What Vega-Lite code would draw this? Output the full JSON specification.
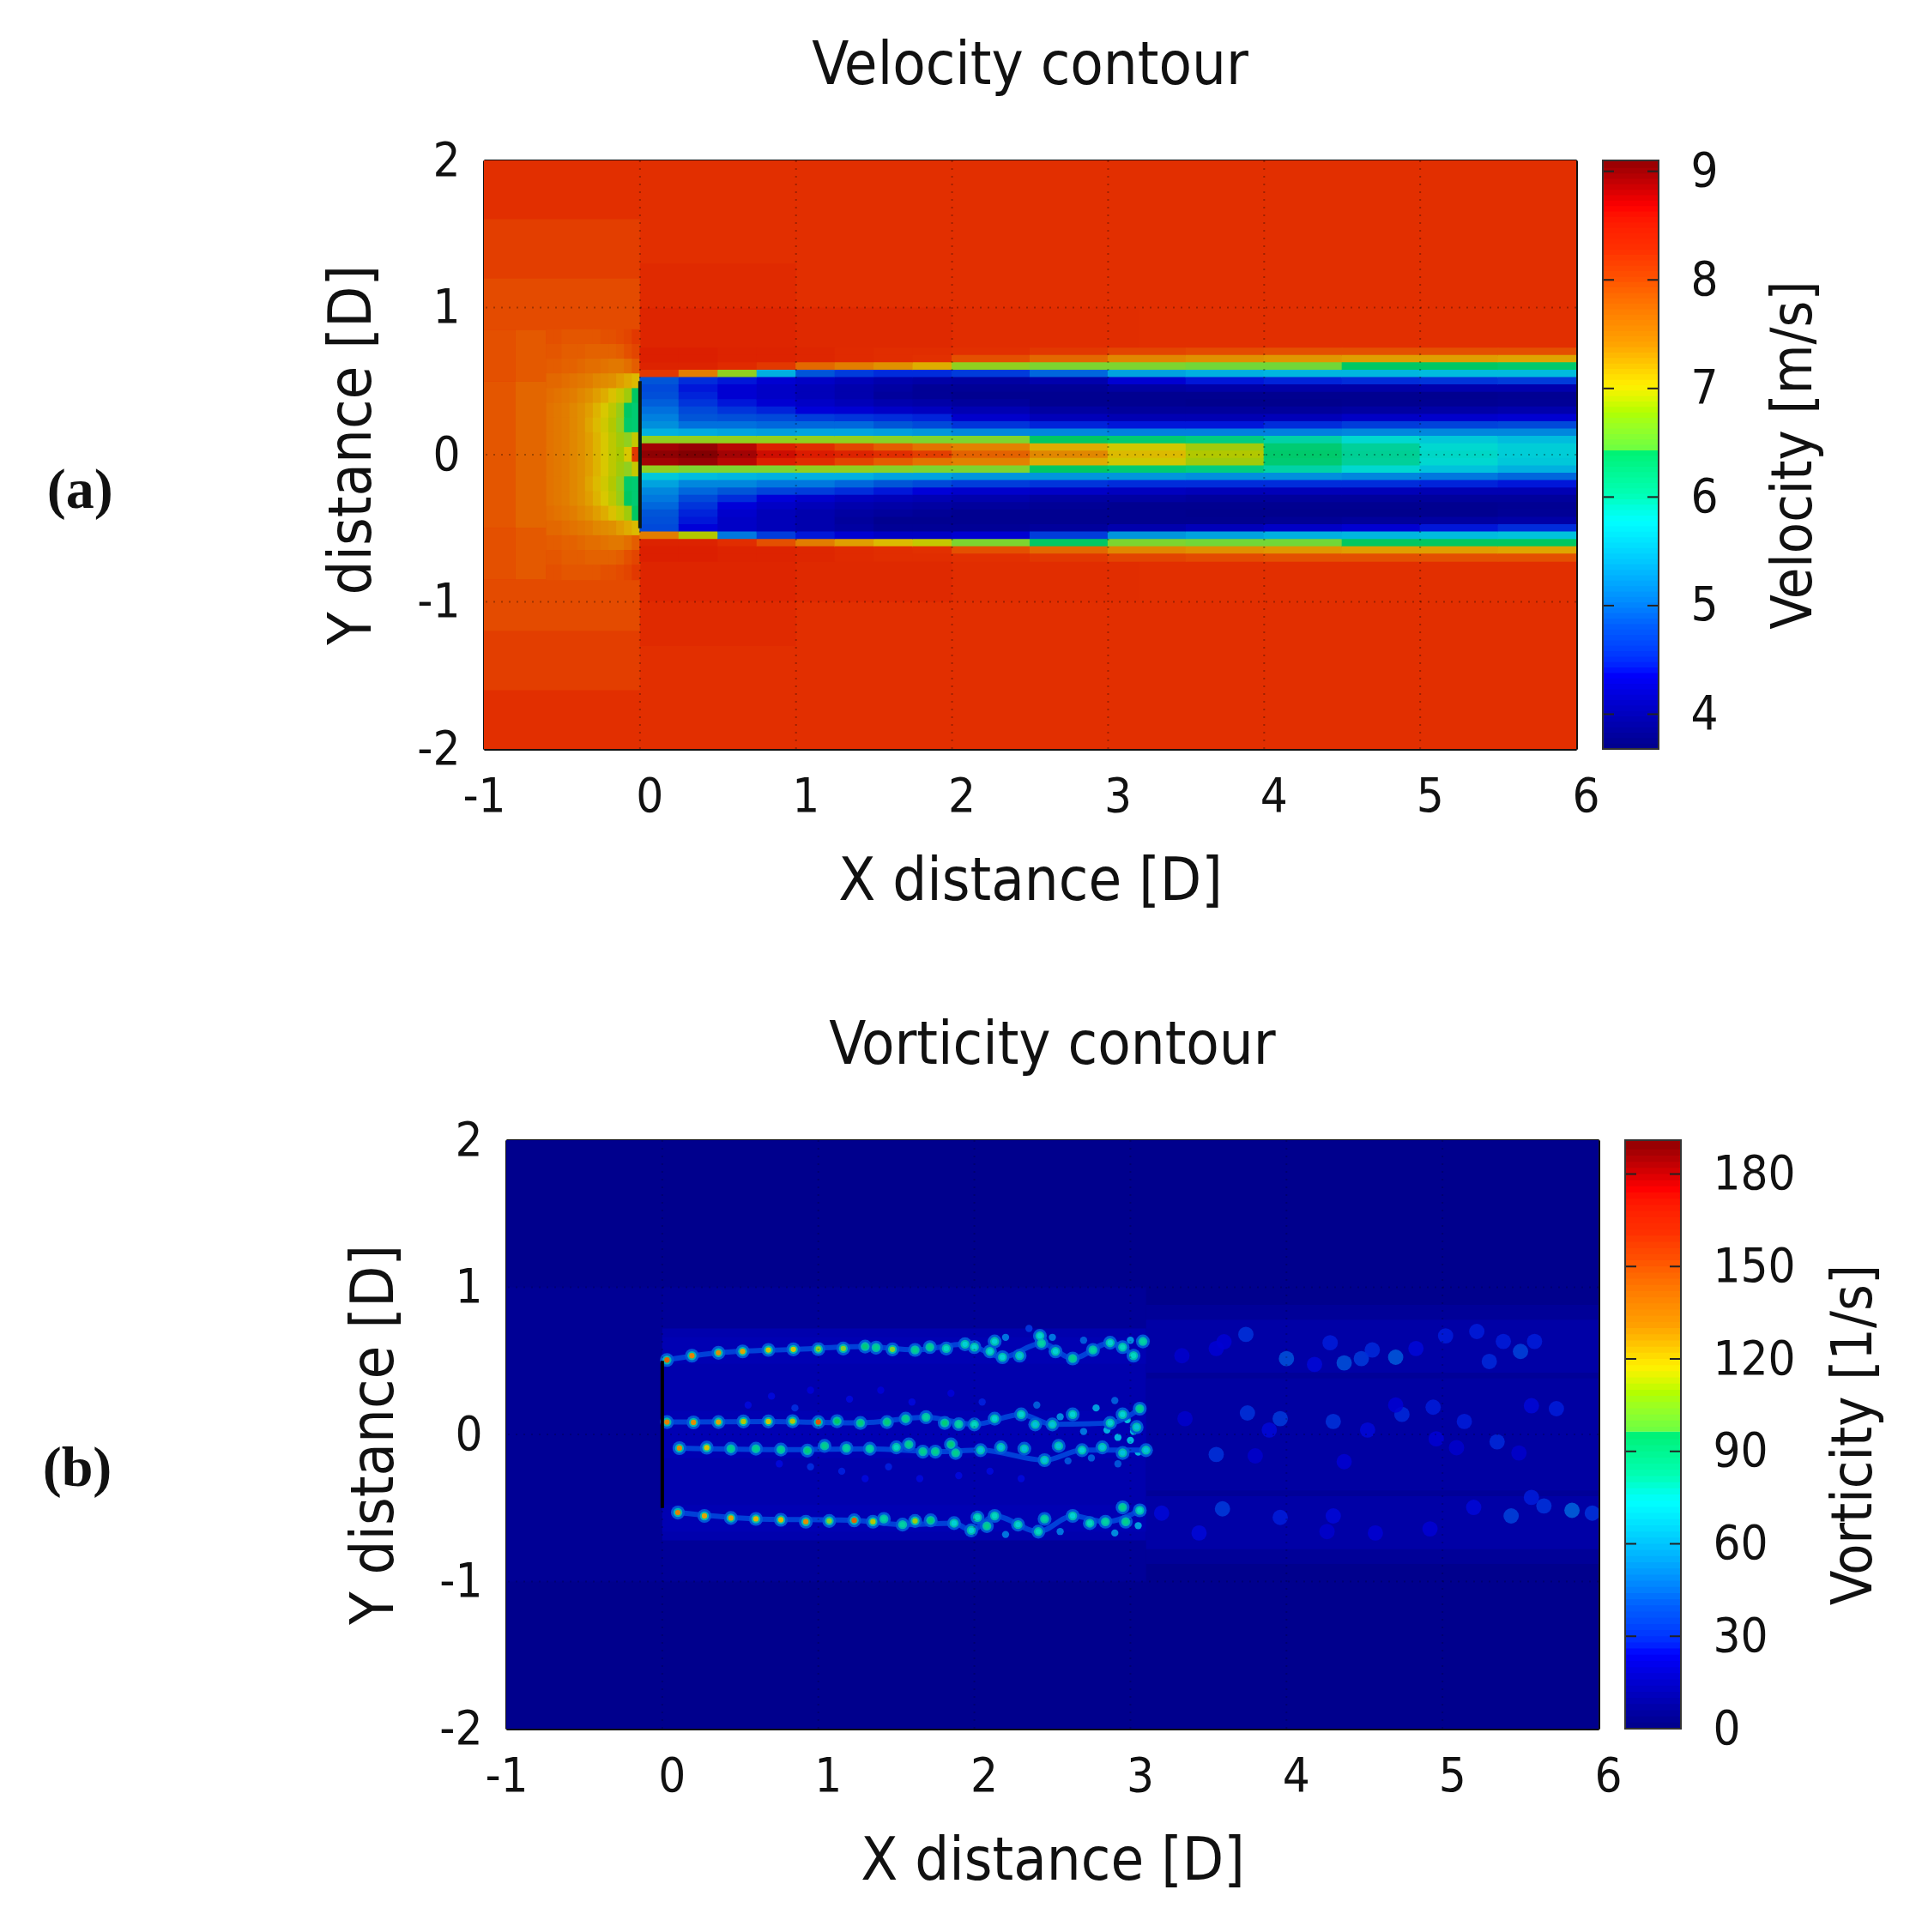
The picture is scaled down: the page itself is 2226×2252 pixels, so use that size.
{"$schema":"https://vega.github.io/schema/vega-lite/v6.json","background":"white","padding":{"left":0,"top":42,"right":20,"bottom":20},"spacing":122,"resolve":{"scale":{"color":"independent"}},
"config":{"view":{"stroke":null},"font":"DejaVu Sans Condensed","title":{"font":"DejaVu Sans Condensed","fontSize":70,"fontWeight":"normal","offset":46,"color":"#111"},"axis":{"labelFont":"DejaVu Sans Condensed","titleFont":"DejaVu Sans Condensed","labelFontSize":56,"titleFontSize":70,"titleFontWeight":"normal","labelColor":"#111","titleColor":"#111","domainColor":"#111","domainWidth":3,"tickColor":"#111","tickWidth":2,"tickSize":-14,"labelPadding":42,"grid":false,"zindex":1,"labelFlush":false,"labelOverlap":false}},
"datasets":{
"wakeA":[
{"x":0.125,"y":0.7,"v":8.5},{"x":0.125,"y":0.65,"v":8.5},{"x":0.125,"y":0.6,"v":8.45},{"x":0.125,"y":0.55,"v":8.2},{"x":0.125,"y":0.5,"v":4.8},{"x":0.125,"y":0.45,"v":4.7},{"x":0.125,"y":0.4,"v":4.75},{"x":0.125,"y":0.35,"v":4.85},{"x":0.125,"y":0.3,"v":4.95},{"x":0.125,"y":0.25,"v":5.05},{"x":0.125,"y":0.2,"v":5.15},{"x":0.125,"y":0.15,"v":5.4},{"x":0.125,"y":0.1,"v":6.6},{"x":0.125,"y":0.05,"v":8.9},{"x":0.125,"y":0,"v":9.0},{"x":0.125,"y":-0.05,"v":8.9},{"x":0.125,"y":-0.1,"v":6.6},{"x":0.125,"y":-0.15,"v":5.6},{"x":0.125,"y":-0.2,"v":5.3},{"x":0.125,"y":-0.25,"v":5.1},{"x":0.125,"y":-0.3,"v":5.0},{"x":0.125,"y":-0.35,"v":4.9},{"x":0.125,"y":-0.4,"v":4.8},{"x":0.125,"y":-0.45,"v":4.75},{"x":0.125,"y":-0.5,"v":4.7},{"x":0.125,"y":-0.55,"v":7.6},{"x":0.125,"y":-0.6,"v":8.45},{"x":0.125,"y":-0.65,"v":8.5},{"x":0.125,"y":-0.7,"v":8.5},
{"x":0.375,"y":0.7,"v":8.5},{"x":0.375,"y":0.65,"v":8.5},{"x":0.375,"y":0.6,"v":8.45},{"x":0.375,"y":0.55,"v":7.6},{"x":0.375,"y":0.5,"v":4.5},{"x":0.375,"y":0.45,"v":4.4},{"x":0.375,"y":0.4,"v":4.45},{"x":0.375,"y":0.35,"v":4.55},{"x":0.375,"y":0.3,"v":4.7},{"x":0.375,"y":0.25,"v":4.8},{"x":0.375,"y":0.2,"v":4.95},{"x":0.375,"y":0.15,"v":5.35},{"x":0.375,"y":0.1,"v":6.6},{"x":0.375,"y":0.05,"v":8.95},{"x":0.375,"y":0,"v":9.05},{"x":0.375,"y":-0.05,"v":8.95},{"x":0.375,"y":-0.1,"v":6.5},{"x":0.375,"y":-0.15,"v":5.5},{"x":0.375,"y":-0.2,"v":5.1},{"x":0.375,"y":-0.25,"v":4.9},{"x":0.375,"y":-0.3,"v":4.7},{"x":0.375,"y":-0.35,"v":4.55},{"x":0.375,"y":-0.4,"v":4.45},{"x":0.375,"y":-0.45,"v":4.4},{"x":0.375,"y":-0.5,"v":4.35},{"x":0.375,"y":-0.55,"v":6.8},{"x":0.375,"y":-0.6,"v":8.45},{"x":0.375,"y":-0.65,"v":8.5},{"x":0.375,"y":-0.7,"v":8.5},
{"x":0.625,"y":0.7,"v":8.45},{"x":0.625,"y":0.65,"v":8.45},{"x":0.625,"y":0.6,"v":8.35},{"x":0.625,"y":0.55,"v":6.6},{"x":0.625,"y":0.5,"v":4.4},{"x":0.625,"y":0.45,"v":4.3},{"x":0.625,"y":0.4,"v":4.3},{"x":0.625,"y":0.35,"v":4.4},{"x":0.625,"y":0.3,"v":4.55},{"x":0.625,"y":0.25,"v":4.75},{"x":0.625,"y":0.2,"v":4.95},{"x":0.625,"y":0.15,"v":5.3},{"x":0.625,"y":0.1,"v":6.6},{"x":0.625,"y":0.05,"v":8.8},{"x":0.625,"y":0,"v":8.9},{"x":0.625,"y":-0.05,"v":8.8},{"x":0.625,"y":-0.1,"v":6.5},{"x":0.625,"y":-0.15,"v":5.45},{"x":0.625,"y":-0.2,"v":5.1},{"x":0.625,"y":-0.25,"v":4.8},{"x":0.625,"y":-0.3,"v":4.5},{"x":0.625,"y":-0.35,"v":4.35},{"x":0.625,"y":-0.4,"v":4.25},{"x":0.625,"y":-0.45,"v":4.2},{"x":0.625,"y":-0.5,"v":4.2},{"x":0.625,"y":-0.55,"v":5.0},{"x":0.625,"y":-0.6,"v":8.3},{"x":0.625,"y":-0.65,"v":8.45},{"x":0.625,"y":-0.7,"v":8.45},
{"x":0.875,"y":0.7,"v":8.45},{"x":0.875,"y":0.65,"v":8.45},{"x":0.875,"y":0.6,"v":8.2},{"x":0.875,"y":0.55,"v":5.4},{"x":0.875,"y":0.5,"v":4.3},{"x":0.875,"y":0.45,"v":4.2},{"x":0.875,"y":0.4,"v":4.2},{"x":0.875,"y":0.35,"v":4.3},{"x":0.875,"y":0.3,"v":4.45},{"x":0.875,"y":0.25,"v":4.7},{"x":0.875,"y":0.2,"v":4.9},{"x":0.875,"y":0.15,"v":5.25},{"x":0.875,"y":0.1,"v":6.6},{"x":0.875,"y":0.05,"v":8.5},{"x":0.875,"y":0,"v":8.7},{"x":0.875,"y":-0.05,"v":8.5},{"x":0.875,"y":-0.1,"v":6.5},{"x":0.875,"y":-0.15,"v":5.4},{"x":0.875,"y":-0.2,"v":5.0},{"x":0.875,"y":-0.25,"v":4.65},{"x":0.875,"y":-0.3,"v":4.35},{"x":0.875,"y":-0.35,"v":4.2},{"x":0.875,"y":-0.4,"v":4.1},{"x":0.875,"y":-0.45,"v":4.1},{"x":0.875,"y":-0.5,"v":4.1},{"x":0.875,"y":-0.55,"v":4.6},{"x":0.875,"y":-0.6,"v":8.0},{"x":0.875,"y":-0.65,"v":8.45},{"x":0.875,"y":-0.7,"v":8.45},
{"x":1.125,"y":0.7,"v":8.4},{"x":1.125,"y":0.65,"v":8.4},{"x":1.125,"y":0.6,"v":7.8},{"x":1.125,"y":0.55,"v":4.8},{"x":1.125,"y":0.5,"v":4.2},{"x":1.125,"y":0.45,"v":4.1},{"x":1.125,"y":0.4,"v":4.1},{"x":1.125,"y":0.35,"v":4.2},{"x":1.125,"y":0.3,"v":4.35},{"x":1.125,"y":0.25,"v":4.6},{"x":1.125,"y":0.2,"v":4.9},{"x":1.125,"y":0.15,"v":5.3},{"x":1.125,"y":0.1,"v":6.6},{"x":1.125,"y":0.05,"v":8.3},{"x":1.125,"y":0,"v":8.55},{"x":1.125,"y":-0.05,"v":8.3},{"x":1.125,"y":-0.1,"v":6.6},{"x":1.125,"y":-0.15,"v":5.4},{"x":1.125,"y":-0.2,"v":5.0},{"x":1.125,"y":-0.25,"v":4.6},{"x":1.125,"y":-0.3,"v":4.25},{"x":1.125,"y":-0.35,"v":4.1},{"x":1.125,"y":-0.4,"v":4.0},{"x":1.125,"y":-0.45,"v":4.0},{"x":1.125,"y":-0.5,"v":4.0},{"x":1.125,"y":-0.55,"v":4.4},{"x":1.125,"y":-0.6,"v":7.6},{"x":1.125,"y":-0.65,"v":8.4},{"x":1.125,"y":-0.7,"v":8.4},
{"x":1.375,"y":0.7,"v":8.35},{"x":1.375,"y":0.65,"v":8.35},{"x":1.375,"y":0.6,"v":7.6},{"x":1.375,"y":0.55,"v":4.6},{"x":1.375,"y":0.5,"v":4.1},{"x":1.375,"y":0.45,"v":4.0},{"x":1.375,"y":0.4,"v":4.0},{"x":1.375,"y":0.35,"v":4.1},{"x":1.375,"y":0.3,"v":4.3},{"x":1.375,"y":0.25,"v":4.55},{"x":1.375,"y":0.2,"v":4.9},{"x":1.375,"y":0.15,"v":5.3},{"x":1.375,"y":0.1,"v":6.6},{"x":1.375,"y":0.05,"v":8.1},{"x":1.375,"y":0,"v":8.45},{"x":1.375,"y":-0.05,"v":8.1},{"x":1.375,"y":-0.1,"v":6.6},{"x":1.375,"y":-0.15,"v":5.4},{"x":1.375,"y":-0.2,"v":4.9},{"x":1.375,"y":-0.25,"v":4.5},{"x":1.375,"y":-0.3,"v":4.15},{"x":1.375,"y":-0.35,"v":4.0},{"x":1.375,"y":-0.4,"v":3.9},{"x":1.375,"y":-0.45,"v":3.85},{"x":1.375,"y":-0.5,"v":3.9},{"x":1.375,"y":-0.55,"v":4.3},{"x":1.375,"y":-0.6,"v":7.3},{"x":1.375,"y":-0.65,"v":8.35},{"x":1.375,"y":-0.7,"v":8.35},
{"x":1.625,"y":0.7,"v":8.3},{"x":1.625,"y":0.65,"v":8.3},{"x":1.625,"y":0.6,"v":7.4},{"x":1.625,"y":0.55,"v":4.5},{"x":1.625,"y":0.5,"v":4.0},{"x":1.625,"y":0.45,"v":3.9},{"x":1.625,"y":0.4,"v":3.85},{"x":1.625,"y":0.35,"v":4.0},{"x":1.625,"y":0.3,"v":4.2},{"x":1.625,"y":0.25,"v":4.5},{"x":1.625,"y":0.2,"v":4.8},{"x":1.625,"y":0.15,"v":5.25},{"x":1.625,"y":0.1,"v":6.55},{"x":1.625,"y":0.05,"v":7.9},{"x":1.625,"y":0,"v":8.3},{"x":1.625,"y":-0.05,"v":7.9},{"x":1.625,"y":-0.1,"v":6.55},{"x":1.625,"y":-0.15,"v":5.3},{"x":1.625,"y":-0.2,"v":4.8},{"x":1.625,"y":-0.25,"v":4.4},{"x":1.625,"y":-0.3,"v":4.1},{"x":1.625,"y":-0.35,"v":3.95},{"x":1.625,"y":-0.4,"v":3.85},{"x":1.625,"y":-0.45,"v":3.75},{"x":1.625,"y":-0.5,"v":3.8},{"x":1.625,"y":-0.55,"v":4.2},{"x":1.625,"y":-0.6,"v":7.1},{"x":1.625,"y":-0.65,"v":8.3},{"x":1.625,"y":-0.7,"v":8.3},
{"x":1.875,"y":0.7,"v":8.3},{"x":1.875,"y":0.65,"v":8.25},{"x":1.875,"y":0.6,"v":7.2},{"x":1.875,"y":0.55,"v":4.5},{"x":1.875,"y":0.5,"v":3.95},{"x":1.875,"y":0.45,"v":3.8},{"x":1.875,"y":0.4,"v":3.8},{"x":1.875,"y":0.35,"v":3.95},{"x":1.875,"y":0.3,"v":4.15},{"x":1.875,"y":0.25,"v":4.45},{"x":1.875,"y":0.2,"v":4.7},{"x":1.875,"y":0.15,"v":5.2},{"x":1.875,"y":0.1,"v":6.5},{"x":1.875,"y":0.05,"v":7.7},{"x":1.875,"y":0,"v":8.15},{"x":1.875,"y":-0.05,"v":7.7},{"x":1.875,"y":-0.1,"v":6.5},{"x":1.875,"y":-0.15,"v":5.3},{"x":1.875,"y":-0.2,"v":4.7},{"x":1.875,"y":-0.25,"v":4.35},{"x":1.875,"y":-0.3,"v":4.05},{"x":1.875,"y":-0.35,"v":3.9},{"x":1.875,"y":-0.4,"v":3.8},{"x":1.875,"y":-0.45,"v":3.75},{"x":1.875,"y":-0.5,"v":3.8},{"x":1.875,"y":-0.55,"v":4.2},{"x":1.875,"y":-0.6,"v":6.9},{"x":1.875,"y":-0.65,"v":8.25},{"x":1.875,"y":-0.7,"v":8.3}
],
"wakeB":[
{"x":2.25,"y":0.7,"v":8.25},{"x":2.25,"y":0.65,"v":8.0},{"x":2.25,"y":0.6,"v":6.6},{"x":2.25,"y":0.55,"v":4.6},{"x":2.25,"y":0.5,"v":3.9},{"x":2.25,"y":0.45,"v":3.8},{"x":2.25,"y":0.4,"v":3.75},{"x":2.25,"y":0.35,"v":3.85},{"x":2.25,"y":0.3,"v":4.05},{"x":2.25,"y":0.25,"v":4.25},{"x":2.25,"y":0.2,"v":4.55},{"x":2.25,"y":0.15,"v":5.1},{"x":2.25,"y":0.1,"v":6.5},{"x":2.25,"y":0.05,"v":7.55},{"x":2.25,"y":0,"v":7.85},{"x":2.25,"y":-0.05,"v":7.55},{"x":2.25,"y":-0.1,"v":6.5},{"x":2.25,"y":-0.15,"v":5.2},{"x":2.25,"y":-0.2,"v":4.6},{"x":2.25,"y":-0.25,"v":4.25},{"x":2.25,"y":-0.3,"v":4.0},{"x":2.25,"y":-0.35,"v":3.85},{"x":2.25,"y":-0.4,"v":3.75},{"x":2.25,"y":-0.45,"v":3.75},{"x":2.25,"y":-0.5,"v":3.8},{"x":2.25,"y":-0.55,"v":4.3},{"x":2.25,"y":-0.6,"v":6.5},{"x":2.25,"y":-0.65,"v":8.0},{"x":2.25,"y":-0.7,"v":8.25},
{"x":2.75,"y":0.7,"v":8.2},{"x":2.75,"y":0.65,"v":7.8},{"x":2.75,"y":0.6,"v":6.5},{"x":2.75,"y":0.55,"v":4.9},{"x":2.75,"y":0.5,"v":4.0},{"x":2.75,"y":0.45,"v":3.8},{"x":2.75,"y":0.4,"v":3.75},{"x":2.75,"y":0.35,"v":3.75},{"x":2.75,"y":0.3,"v":3.9},{"x":2.75,"y":0.25,"v":4.1},{"x":2.75,"y":0.2,"v":4.45},{"x":2.75,"y":0.15,"v":5.1},{"x":2.75,"y":0.1,"v":6.4},{"x":2.75,"y":0.05,"v":7.2},{"x":2.75,"y":0,"v":7.5},{"x":2.75,"y":-0.05,"v":7.2},{"x":2.75,"y":-0.1,"v":6.4},{"x":2.75,"y":-0.15,"v":5.2},{"x":2.75,"y":-0.2,"v":4.55},{"x":2.75,"y":-0.25,"v":4.2},{"x":2.75,"y":-0.3,"v":3.9},{"x":2.75,"y":-0.35,"v":3.8},{"x":2.75,"y":-0.4,"v":3.75},{"x":2.75,"y":-0.45,"v":3.75},{"x":2.75,"y":-0.5,"v":3.85},{"x":2.75,"y":-0.55,"v":4.6},{"x":2.75,"y":-0.6,"v":6.4},{"x":2.75,"y":-0.65,"v":7.8},{"x":2.75,"y":-0.7,"v":8.2},
{"x":3.25,"y":0.7,"v":8.1},{"x":3.25,"y":0.65,"v":7.5},{"x":3.25,"y":0.6,"v":6.5},{"x":3.25,"y":0.55,"v":5.3},{"x":3.25,"y":0.5,"v":4.3},{"x":3.25,"y":0.45,"v":3.9},{"x":3.25,"y":0.4,"v":3.75},{"x":3.25,"y":0.35,"v":3.75},{"x":3.25,"y":0.3,"v":3.85},{"x":3.25,"y":0.25,"v":4.05},{"x":3.25,"y":0.2,"v":4.4},{"x":3.25,"y":0.15,"v":5.05},{"x":3.25,"y":0.1,"v":6.3},{"x":3.25,"y":0.05,"v":6.95},{"x":3.25,"y":0,"v":7.1},{"x":3.25,"y":-0.05,"v":6.95},{"x":3.25,"y":-0.1,"v":6.3},{"x":3.25,"y":-0.15,"v":5.2},{"x":3.25,"y":-0.2,"v":4.5},{"x":3.25,"y":-0.25,"v":4.15},{"x":3.25,"y":-0.3,"v":3.9},{"x":3.25,"y":-0.35,"v":3.75},{"x":3.25,"y":-0.4,"v":3.75},{"x":3.25,"y":-0.45,"v":3.75},{"x":3.25,"y":-0.5,"v":4.0},{"x":3.25,"y":-0.55,"v":5.2},{"x":3.25,"y":-0.6,"v":6.5},{"x":3.25,"y":-0.65,"v":7.5},{"x":3.25,"y":-0.7,"v":8.1},
{"x":3.75,"y":0.7,"v":8.05},{"x":3.75,"y":0.65,"v":7.4},{"x":3.75,"y":0.6,"v":6.45},{"x":3.75,"y":0.55,"v":5.4},{"x":3.75,"y":0.5,"v":4.4},{"x":3.75,"y":0.45,"v":3.95},{"x":3.75,"y":0.4,"v":3.75},{"x":3.75,"y":0.35,"v":3.72},{"x":3.75,"y":0.3,"v":3.85},{"x":3.75,"y":0.25,"v":4.05},{"x":3.75,"y":0.2,"v":4.4},{"x":3.75,"y":0.15,"v":5.05},{"x":3.75,"y":0.1,"v":6.2},{"x":3.75,"y":0.05,"v":6.7},{"x":3.75,"y":0,"v":6.8},{"x":3.75,"y":-0.05,"v":6.7},{"x":3.75,"y":-0.1,"v":6.2},{"x":3.75,"y":-0.15,"v":5.15},{"x":3.75,"y":-0.2,"v":4.5},{"x":3.75,"y":-0.25,"v":4.1},{"x":3.75,"y":-0.3,"v":3.85},{"x":3.75,"y":-0.35,"v":3.75},{"x":3.75,"y":-0.4,"v":3.72},{"x":3.75,"y":-0.45,"v":3.75},{"x":3.75,"y":-0.5,"v":4.1},{"x":3.75,"y":-0.55,"v":5.3},{"x":3.75,"y":-0.6,"v":6.45},{"x":3.75,"y":-0.65,"v":7.4},{"x":3.75,"y":-0.7,"v":8.05},
{"x":4.25,"y":0.7,"v":8.0},{"x":4.25,"y":0.65,"v":7.35},{"x":4.25,"y":0.6,"v":6.45},{"x":4.25,"y":0.55,"v":5.45},{"x":4.25,"y":0.5,"v":4.45},{"x":4.25,"y":0.45,"v":3.95},{"x":4.25,"y":0.4,"v":3.75},{"x":4.25,"y":0.35,"v":3.72},{"x":4.25,"y":0.3,"v":3.85},{"x":4.25,"y":0.25,"v":4.1},{"x":4.25,"y":0.2,"v":4.5},{"x":4.25,"y":0.15,"v":5.05},{"x":4.25,"y":0.1,"v":5.95},{"x":4.25,"y":0.05,"v":6.3},{"x":4.25,"y":0,"v":6.35},{"x":4.25,"y":-0.05,"v":6.3},{"x":4.25,"y":-0.1,"v":5.95},{"x":4.25,"y":-0.15,"v":5.15},{"x":4.25,"y":-0.2,"v":4.5},{"x":4.25,"y":-0.25,"v":4.1},{"x":4.25,"y":-0.3,"v":3.85},{"x":4.25,"y":-0.35,"v":3.75},{"x":4.25,"y":-0.4,"v":3.72},{"x":4.25,"y":-0.45,"v":3.8},{"x":4.25,"y":-0.5,"v":4.2},{"x":4.25,"y":-0.55,"v":5.4},{"x":4.25,"y":-0.6,"v":6.45},{"x":4.25,"y":-0.65,"v":7.35},{"x":4.25,"y":-0.7,"v":8.0},
{"x":4.75,"y":0.7,"v":8.0},{"x":4.75,"y":0.65,"v":7.3},{"x":4.75,"y":0.6,"v":6.4},{"x":4.75,"y":0.55,"v":5.45},{"x":4.75,"y":0.5,"v":4.5},{"x":4.75,"y":0.45,"v":3.95},{"x":4.75,"y":0.4,"v":3.75},{"x":4.75,"y":0.35,"v":3.75},{"x":4.75,"y":0.3,"v":3.9},{"x":4.75,"y":0.25,"v":4.2},{"x":4.75,"y":0.2,"v":4.6},{"x":4.75,"y":0.15,"v":5.1},{"x":4.75,"y":0.1,"v":5.75},{"x":4.75,"y":0.05,"v":6.0},{"x":4.75,"y":0,"v":6.05},{"x":4.75,"y":-0.05,"v":6.0},{"x":4.75,"y":-0.1,"v":5.75},{"x":4.75,"y":-0.15,"v":5.1},{"x":4.75,"y":-0.2,"v":4.5},{"x":4.75,"y":-0.25,"v":4.1},{"x":4.75,"y":-0.3,"v":3.85},{"x":4.75,"y":-0.35,"v":3.75},{"x":4.75,"y":-0.4,"v":3.72},{"x":4.75,"y":-0.45,"v":3.85},{"x":4.75,"y":-0.5,"v":4.3},{"x":4.75,"y":-0.55,"v":5.45},{"x":4.75,"y":-0.6,"v":6.42},{"x":4.75,"y":-0.65,"v":7.3},{"x":4.75,"y":-0.7,"v":8.0},
{"x":5.25,"y":0.7,"v":8.0},{"x":5.25,"y":0.65,"v":7.3},{"x":5.25,"y":0.6,"v":6.4},{"x":5.25,"y":0.55,"v":5.5},{"x":5.25,"y":0.5,"v":4.55},{"x":5.25,"y":0.45,"v":4.0},{"x":5.25,"y":0.4,"v":3.75},{"x":5.25,"y":0.35,"v":3.78},{"x":5.25,"y":0.3,"v":3.95},{"x":5.25,"y":0.25,"v":4.25},{"x":5.25,"y":0.2,"v":4.65},{"x":5.25,"y":0.15,"v":5.1},{"x":5.25,"y":0.1,"v":5.6},{"x":5.25,"y":0.05,"v":5.75},{"x":5.25,"y":0,"v":5.8},{"x":5.25,"y":-0.05,"v":5.75},{"x":5.25,"y":-0.1,"v":5.55},{"x":5.25,"y":-0.15,"v":5.0},{"x":5.25,"y":-0.2,"v":4.45},{"x":5.25,"y":-0.25,"v":4.05},{"x":5.25,"y":-0.3,"v":3.85},{"x":5.25,"y":-0.35,"v":3.75},{"x":5.25,"y":-0.4,"v":3.75},{"x":5.25,"y":-0.45,"v":3.9},{"x":5.25,"y":-0.5,"v":4.4},{"x":5.25,"y":-0.55,"v":5.5},{"x":5.25,"y":-0.6,"v":6.42},{"x":5.25,"y":-0.65,"v":7.3},{"x":5.25,"y":-0.7,"v":8.0},
{"x":5.75,"y":0.7,"v":8.0},{"x":5.75,"y":0.65,"v":7.25},{"x":5.75,"y":0.6,"v":6.35},{"x":5.75,"y":0.55,"v":5.5},{"x":5.75,"y":0.5,"v":4.6},{"x":5.75,"y":0.45,"v":4.0},{"x":5.75,"y":0.4,"v":3.78},{"x":5.75,"y":0.35,"v":3.8},{"x":5.75,"y":0.3,"v":4.0},{"x":5.75,"y":0.25,"v":4.3},{"x":5.75,"y":0.2,"v":4.7},{"x":5.75,"y":0.15,"v":5.1},{"x":5.75,"y":0.1,"v":5.5},{"x":5.75,"y":0.05,"v":5.65},{"x":5.75,"y":0,"v":5.65},{"x":5.75,"y":-0.05,"v":5.6},{"x":5.75,"y":-0.1,"v":5.4},{"x":5.75,"y":-0.15,"v":4.9},{"x":5.75,"y":-0.2,"v":4.4},{"x":5.75,"y":-0.25,"v":4.05},{"x":5.75,"y":-0.3,"v":3.85},{"x":5.75,"y":-0.35,"v":3.78},{"x":5.75,"y":-0.4,"v":3.8},{"x":5.75,"y":-0.45,"v":3.95},{"x":5.75,"y":-0.5,"v":4.5},{"x":5.75,"y":-0.55,"v":5.55},{"x":5.75,"y":-0.6,"v":6.42},{"x":5.75,"y":-0.65,"v":7.25},{"x":5.75,"y":-0.7,"v":8.0}
],
"inflow":[
{"x":-0.575,"y":0.8,"v":8},{"x":-0.525,"y":0.8,"v":8},{"x":-0.475,"y":0.8,"v":7.95},{"x":-0.425,"y":0.8,"v":7.95},{"x":-0.375,"y":0.8,"v":7.95},{"x":-0.325,"y":0.8,"v":7.95},{"x":-0.275,"y":0.8,"v":7.95},{"x":-0.225,"y":0.8,"v":8},{"x":-0.175,"y":0.8,"v":8},{"x":-0.125,"y":0.8,"v":8.05},{"x":-0.075,"y":0.8,"v":8.1},{"x":-0.025,"y":0.8,"v":8.2},
{"x":-0.575,"y":0.7,"v":7.95},{"x":-0.525,"y":0.7,"v":7.95},{"x":-0.475,"y":0.7,"v":7.9},{"x":-0.425,"y":0.7,"v":7.9},{"x":-0.375,"y":0.7,"v":7.9},{"x":-0.325,"y":0.7,"v":7.85},{"x":-0.275,"y":0.7,"v":7.85},{"x":-0.225,"y":0.7,"v":7.85},{"x":-0.175,"y":0.7,"v":7.85},{"x":-0.125,"y":0.7,"v":7.9},{"x":-0.075,"y":0.7,"v":8},{"x":-0.025,"y":0.7,"v":8.1},
{"x":-0.575,"y":0.6,"v":7.9},{"x":-0.525,"y":0.6,"v":7.9},{"x":-0.475,"y":0.6,"v":7.85},{"x":-0.425,"y":0.6,"v":7.85},{"x":-0.375,"y":0.6,"v":7.8},{"x":-0.325,"y":0.6,"v":7.75},{"x":-0.275,"y":0.6,"v":7.75},{"x":-0.225,"y":0.6,"v":7.7},{"x":-0.175,"y":0.6,"v":7.65},{"x":-0.125,"y":0.6,"v":7.65},{"x":-0.075,"y":0.6,"v":7.75},{"x":-0.025,"y":0.6,"v":7.9},
{"x":-0.575,"y":0.5,"v":7.8},{"x":-0.525,"y":0.5,"v":7.8},{"x":-0.475,"y":0.5,"v":7.75},{"x":-0.425,"y":0.5,"v":7.7},{"x":-0.375,"y":0.5,"v":7.65},{"x":-0.325,"y":0.5,"v":7.6},{"x":-0.275,"y":0.5,"v":7.5},{"x":-0.225,"y":0.5,"v":7.45},{"x":-0.175,"y":0.5,"v":7.4},{"x":-0.125,"y":0.5,"v":7.3},{"x":-0.075,"y":0.5,"v":7.2},{"x":-0.025,"y":0.5,"v":7.1},
{"x":-0.575,"y":0.4,"v":7.75},{"x":-0.525,"y":0.4,"v":7.7},{"x":-0.475,"y":0.4,"v":7.65},{"x":-0.425,"y":0.4,"v":7.6},{"x":-0.375,"y":0.4,"v":7.5},{"x":-0.325,"y":0.4,"v":7.4},{"x":-0.275,"y":0.4,"v":7.3},{"x":-0.225,"y":0.4,"v":7.2},{"x":-0.175,"y":0.4,"v":7.05},{"x":-0.125,"y":0.4,"v":6.9},{"x":-0.075,"y":0.4,"v":6.7},{"x":-0.025,"y":0.4,"v":6.4},
{"x":-0.575,"y":0.3,"v":7.7},{"x":-0.525,"y":0.3,"v":7.65},{"x":-0.475,"y":0.3,"v":7.6},{"x":-0.425,"y":0.3,"v":7.5},{"x":-0.375,"y":0.3,"v":7.4},{"x":-0.325,"y":0.3,"v":7.3},{"x":-0.275,"y":0.3,"v":7.15},{"x":-0.225,"y":0.3,"v":7.0},{"x":-0.175,"y":0.3,"v":6.85},{"x":-0.125,"y":0.3,"v":6.65},{"x":-0.075,"y":0.3,"v":6.4},{"x":-0.025,"y":0.3,"v":6.3},
{"x":-0.575,"y":0.2,"v":7.7},{"x":-0.525,"y":0.2,"v":7.65},{"x":-0.475,"y":0.2,"v":7.6},{"x":-0.425,"y":0.2,"v":7.5},{"x":-0.375,"y":0.2,"v":7.4},{"x":-0.325,"y":0.2,"v":7.25},{"x":-0.275,"y":0.2,"v":7.1},{"x":-0.225,"y":0.2,"v":6.95},{"x":-0.175,"y":0.2,"v":6.8},{"x":-0.125,"y":0.2,"v":6.6},{"x":-0.075,"y":0.2,"v":6.35},{"x":-0.025,"y":0.2,"v":6.3},
{"x":-0.575,"y":0.1,"v":7.7},{"x":-0.525,"y":0.1,"v":7.65},{"x":-0.475,"y":0.1,"v":7.6},{"x":-0.425,"y":0.1,"v":7.5},{"x":-0.375,"y":0.1,"v":7.4},{"x":-0.325,"y":0.1,"v":7.3},{"x":-0.275,"y":0.1,"v":7.15},{"x":-0.225,"y":0.1,"v":7.0},{"x":-0.175,"y":0.1,"v":6.85},{"x":-0.125,"y":0.1,"v":6.7},{"x":-0.075,"y":0.1,"v":6.6},{"x":-0.025,"y":0.1,"v":6.9},
{"x":-0.575,"y":0,"v":7.7},{"x":-0.525,"y":0,"v":7.65},{"x":-0.475,"y":0,"v":7.6},{"x":-0.425,"y":0,"v":7.5},{"x":-0.375,"y":0,"v":7.4},{"x":-0.325,"y":0,"v":7.3},{"x":-0.275,"y":0,"v":7.15},{"x":-0.225,"y":0,"v":7.0},{"x":-0.175,"y":0,"v":6.85},{"x":-0.125,"y":0,"v":6.75},{"x":-0.075,"y":0,"v":7.0},{"x":-0.025,"y":0,"v":8.2},
{"x":-0.575,"y":-0.1,"v":7.7},{"x":-0.525,"y":-0.1,"v":7.65},{"x":-0.475,"y":-0.1,"v":7.6},{"x":-0.425,"y":-0.1,"v":7.5},{"x":-0.375,"y":-0.1,"v":7.4},{"x":-0.325,"y":-0.1,"v":7.3},{"x":-0.275,"y":-0.1,"v":7.15},{"x":-0.225,"y":-0.1,"v":7.0},{"x":-0.175,"y":-0.1,"v":6.85},{"x":-0.125,"y":-0.1,"v":6.7},{"x":-0.075,"y":-0.1,"v":6.6},{"x":-0.025,"y":-0.1,"v":6.9},
{"x":-0.575,"y":-0.2,"v":7.7},{"x":-0.525,"y":-0.2,"v":7.65},{"x":-0.475,"y":-0.2,"v":7.6},{"x":-0.425,"y":-0.2,"v":7.5},{"x":-0.375,"y":-0.2,"v":7.4},{"x":-0.325,"y":-0.2,"v":7.25},{"x":-0.275,"y":-0.2,"v":7.1},{"x":-0.225,"y":-0.2,"v":6.95},{"x":-0.175,"y":-0.2,"v":6.8},{"x":-0.125,"y":-0.2,"v":6.6},{"x":-0.075,"y":-0.2,"v":6.35},{"x":-0.025,"y":-0.2,"v":6.3},
{"x":-0.575,"y":-0.3,"v":7.7},{"x":-0.525,"y":-0.3,"v":7.65},{"x":-0.475,"y":-0.3,"v":7.6},{"x":-0.425,"y":-0.3,"v":7.5},{"x":-0.375,"y":-0.3,"v":7.4},{"x":-0.325,"y":-0.3,"v":7.3},{"x":-0.275,"y":-0.3,"v":7.15},{"x":-0.225,"y":-0.3,"v":7.0},{"x":-0.175,"y":-0.3,"v":6.85},{"x":-0.125,"y":-0.3,"v":6.65},{"x":-0.075,"y":-0.3,"v":6.4},{"x":-0.025,"y":-0.3,"v":6.3},
{"x":-0.575,"y":-0.4,"v":7.75},{"x":-0.525,"y":-0.4,"v":7.7},{"x":-0.475,"y":-0.4,"v":7.65},{"x":-0.425,"y":-0.4,"v":7.6},{"x":-0.375,"y":-0.4,"v":7.5},{"x":-0.325,"y":-0.4,"v":7.4},{"x":-0.275,"y":-0.4,"v":7.3},{"x":-0.225,"y":-0.4,"v":7.2},{"x":-0.175,"y":-0.4,"v":7.05},{"x":-0.125,"y":-0.4,"v":6.9},{"x":-0.075,"y":-0.4,"v":6.7},{"x":-0.025,"y":-0.4,"v":6.4},
{"x":-0.575,"y":-0.5,"v":7.8},{"x":-0.525,"y":-0.5,"v":7.8},{"x":-0.475,"y":-0.5,"v":7.75},{"x":-0.425,"y":-0.5,"v":7.7},{"x":-0.375,"y":-0.5,"v":7.65},{"x":-0.325,"y":-0.5,"v":7.6},{"x":-0.275,"y":-0.5,"v":7.5},{"x":-0.225,"y":-0.5,"v":7.45},{"x":-0.175,"y":-0.5,"v":7.4},{"x":-0.125,"y":-0.5,"v":7.3},{"x":-0.075,"y":-0.5,"v":7.2},{"x":-0.025,"y":-0.5,"v":7.1},
{"x":-0.575,"y":-0.6,"v":7.9},{"x":-0.525,"y":-0.6,"v":7.9},{"x":-0.475,"y":-0.6,"v":7.85},{"x":-0.425,"y":-0.6,"v":7.85},{"x":-0.375,"y":-0.6,"v":7.8},{"x":-0.325,"y":-0.6,"v":7.75},{"x":-0.275,"y":-0.6,"v":7.75},{"x":-0.225,"y":-0.6,"v":7.7},{"x":-0.175,"y":-0.6,"v":7.65},{"x":-0.125,"y":-0.6,"v":7.65},{"x":-0.075,"y":-0.6,"v":7.75},{"x":-0.025,"y":-0.6,"v":7.9},
{"x":-0.575,"y":-0.7,"v":7.95},{"x":-0.525,"y":-0.7,"v":7.95},{"x":-0.475,"y":-0.7,"v":7.9},{"x":-0.425,"y":-0.7,"v":7.9},{"x":-0.375,"y":-0.7,"v":7.9},{"x":-0.325,"y":-0.7,"v":7.85},{"x":-0.275,"y":-0.7,"v":7.85},{"x":-0.225,"y":-0.7,"v":7.85},{"x":-0.175,"y":-0.7,"v":7.85},{"x":-0.125,"y":-0.7,"v":7.9},{"x":-0.075,"y":-0.7,"v":8},{"x":-0.025,"y":-0.7,"v":8.1},
{"x":-0.575,"y":-0.8,"v":8},{"x":-0.525,"y":-0.8,"v":8},{"x":-0.475,"y":-0.8,"v":7.95},{"x":-0.425,"y":-0.8,"v":7.95},{"x":-0.375,"y":-0.8,"v":7.95},{"x":-0.325,"y":-0.8,"v":7.95},{"x":-0.275,"y":-0.8,"v":7.95},{"x":-0.225,"y":-0.8,"v":8},{"x":-0.175,"y":-0.8,"v":8},{"x":-0.125,"y":-0.8,"v":8.05},{"x":-0.075,"y":-0.8,"v":8.1},{"x":-0.025,"y":-0.8,"v":8.2}
],
"streaks":[
{"s":"a","x":0.03,"y":0.506},{"s":"a","x":0.36,"y":0.555},{"s":"a","x":0.84,"y":0.578},{"s":"a","x":1.3,"y":0.597},{"s":"a","x":1.62,"y":0.574},{"s":"a","x":1.94,"y":0.613},{"s":"a","x":2.18,"y":0.525},{"s":"a","x":2.43,"y":0.62},{"s":"a","x":2.63,"y":0.516},{"s":"a","x":2.87,"y":0.623},{"s":"a","x":3.02,"y":0.535},
{"s":"b","x":0.03,"y":0.084},{"s":"b","x":0.68,"y":0.088},{"s":"b","x":1.27,"y":0.078},{"s":"b","x":1.69,"y":0.117},{"s":"b","x":2.0,"y":0.068},{"s":"b","x":2.3,"y":0.136},{"s":"b","x":2.5,"y":0.068},{"s":"b","x":2.87,"y":0.078},{"s":"b","x":3.06,"y":0.175},
{"s":"c","x":0.11,"y":-0.093},{"s":"c","x":0.76,"y":-0.103},{"s":"c","x":1.33,"y":-0.097},{"s":"c","x":1.75,"y":-0.117},{"s":"c","x":2.04,"y":-0.107},{"s":"c","x":2.45,"y":-0.175},{"s":"c","x":2.69,"y":-0.107},{"s":"c","x":3.1,"y":-0.107},
{"s":"d","x":0.1,"y":-0.531},{"s":"d","x":0.6,"y":-0.574},{"s":"d","x":1.23,"y":-0.584},{"s":"d","x":1.54,"y":-0.613},{"s":"d","x":1.87,"y":-0.603},{"s":"d","x":1.98,"y":-0.652},{"s":"d","x":2.13,"y":-0.554},{"s":"d","x":2.41,"y":-0.661},{"s":"d","x":2.63,"y":-0.554},{"s":"d","x":2.84,"y":-0.593},{"s":"d","x":3.06,"y":-0.516}
],
"dots":[
{"x":0.03,"y":0.506,"v":145},{"x":0.19,"y":0.535,"v":135},{"x":0.36,"y":0.555,"v":130},{"x":0.515,"y":0.564,"v":125},{"x":0.68,"y":0.574,"v":115},{"x":0.84,"y":0.578,"v":115},{"x":1.0,"y":0.58,"v":100},{"x":1.16,"y":0.584,"v":100},{"x":1.3,"y":0.597,"v":90},{"x":1.37,"y":0.59,"v":85},{"x":1.475,"y":0.578,"v":100},{"x":1.62,"y":0.574,"v":85},{"x":1.715,"y":0.593,"v":85},{"x":1.82,"y":0.584,"v":75},{"x":1.94,"y":0.613,"v":70},{"x":2.0,"y":0.593,"v":70},{"x":2.13,"y":0.632,"v":70},{"x":2.1,"y":0.564,"v":70},{"x":2.18,"y":0.525,"v":70},{"x":2.29,"y":0.535,"v":65},{"x":2.42,"y":0.67,"v":70},{"x":2.43,"y":0.62,"v":80},{"x":2.52,"y":0.564,"v":70},{"x":2.63,"y":0.516,"v":85},{"x":2.76,"y":0.574,"v":80},{"x":2.87,"y":0.623,"v":70},{"x":2.95,"y":0.593,"v":75},{"x":3.02,"y":0.535,"v":75},{"x":3.08,"y":0.632,"v":80},
{"x":0.03,"y":0.084,"v":135},{"x":0.2,"y":0.082,"v":130},{"x":0.36,"y":0.084,"v":125},{"x":0.52,"y":0.088,"v":110},{"x":0.68,"y":0.088,"v":115},{"x":0.835,"y":0.09,"v":110},{"x":1.0,"y":0.084,"v":150},{"x":1.12,"y":0.09,"v":95},{"x":1.27,"y":0.078,"v":90},{"x":1.44,"y":0.084,"v":90},{"x":1.56,"y":0.107,"v":85},{"x":1.69,"y":0.117,"v":80},{"x":1.81,"y":0.078,"v":90},{"x":1.9,"y":0.07,"v":80},{"x":2.0,"y":0.068,"v":75},{"x":2.13,"y":0.107,"v":70},{"x":2.3,"y":0.136,"v":70},{"x":2.39,"y":0.068,"v":65},{"x":2.5,"y":0.068,"v":65},{"x":2.63,"y":0.136,"v":70},{"x":2.87,"y":0.078,"v":70},{"x":2.95,"y":0.136,"v":70},{"x":3.06,"y":0.175,"v":85},{"x":3.04,"y":0.05,"v":65},
{"x":0.11,"y":-0.093,"v":130},{"x":0.285,"y":-0.09,"v":115},{"x":0.44,"y":-0.097,"v":85},{"x":0.6,"y":-0.097,"v":85},{"x":0.76,"y":-0.103,"v":85},{"x":0.93,"y":-0.11,"v":90},{"x":1.04,"y":-0.078,"v":85},{"x":1.18,"y":-0.093,"v":80},{"x":1.33,"y":-0.097,"v":80},{"x":1.5,"y":-0.088,"v":75},{"x":1.58,"y":-0.068,"v":85},{"x":1.67,"y":-0.117,"v":85},{"x":1.75,"y":-0.117,"v":85},{"x":1.85,"y":-0.068,"v":90},{"x":1.88,"y":-0.126,"v":85},{"x":2.04,"y":-0.107,"v":65},{"x":2.17,"y":-0.088,"v":65},{"x":2.32,"y":-0.097,"v":65},{"x":2.45,"y":-0.175,"v":65},{"x":2.54,"y":-0.078,"v":65},{"x":2.69,"y":-0.107,"v":70},{"x":2.82,"y":-0.088,"v":65},{"x":2.95,"y":-0.126,"v":65},{"x":3.1,"y":-0.107,"v":65},
{"x":0.1,"y":-0.531,"v":135},{"x":0.27,"y":-0.554,"v":125},{"x":0.44,"y":-0.568,"v":125},{"x":0.6,"y":-0.574,"v":120},{"x":0.76,"y":-0.58,"v":120},{"x":0.92,"y":-0.593,"v":130},{"x":1.07,"y":-0.588,"v":100},{"x":1.23,"y":-0.584,"v":145},{"x":1.35,"y":-0.593,"v":110},{"x":1.42,"y":-0.574,"v":80},{"x":1.54,"y":-0.613,"v":80},{"x":1.62,"y":-0.588,"v":105},{"x":1.72,"y":-0.584,"v":90},{"x":1.87,"y":-0.603,"v":70},{"x":1.98,"y":-0.652,"v":70},{"x":2.02,"y":-0.564,"v":75},{"x":2.08,"y":-0.623,"v":85},{"x":2.13,"y":-0.554,"v":75},{"x":2.28,"y":-0.613,"v":70},{"x":2.41,"y":-0.661,"v":75},{"x":2.45,"y":-0.574,"v":80},{"x":2.63,"y":-0.554,"v":70},{"x":2.74,"y":-0.603,"v":75},{"x":2.84,"y":-0.593,"v":80},{"x":2.95,"y":-0.496,"v":85},{"x":2.97,"y":-0.593,"v":85},{"x":3.06,"y":-0.516,"v":75}
],
"blobs":[
{"x":3.74,"y":0.68,"v":30},{"x":4.0,"y":0.515,"v":38},{"x":4.37,"y":0.486,"v":38},{"x":4.48,"y":0.515,"v":32},{"x":4.7,"y":0.525,"v":40},{"x":5.02,"y":0.67,"v":26},{"x":5.22,"y":0.7,"v":26},{"x":5.3,"y":0.496,"v":28},{"x":5.39,"y":0.632,"v":26},{"x":5.5,"y":0.564,"v":34},{"x":5.59,"y":0.632,"v":26},{"x":4.83,"y":0.584,"v":24},{"x":4.55,"y":0.574,"v":28},{"x":4.28,"y":0.623,"v":26},{"x":4.18,"y":0.476,"v":24},{"x":3.55,"y":0.584,"v":22},{"x":3.33,"y":0.535,"v":20},{"x":3.6,"y":0.63,"v":22},
{"x":3.75,"y":0.146,"v":30},{"x":3.96,"y":0.107,"v":32},{"x":3.89,"y":0.03,"v":24},{"x":3.55,"y":-0.136,"v":30},{"x":3.8,"y":-0.146,"v":20},{"x":4.3,"y":0.088,"v":30},{"x":4.52,"y":0.03,"v":24},{"x":4.74,"y":0.136,"v":28},{"x":4.94,"y":0.185,"v":26},{"x":4.7,"y":0.2,"v":22},{"x":5.14,"y":0.088,"v":26},{"x":4.96,"y":-0.03,"v":22},{"x":5.35,"y":-0.05,"v":28},{"x":5.57,"y":0.195,"v":24},{"x":5.73,"y":0.175,"v":26},{"x":4.37,"y":-0.185,"v":22},{"x":5.09,"y":-0.09,"v":20},{"x":5.49,"y":-0.126,"v":20},{"x":3.35,"y":0.107,"v":20},
{"x":3.2,"y":-0.535,"v":24},{"x":3.59,"y":-0.506,"v":32},{"x":3.44,"y":-0.67,"v":24},{"x":3.96,"y":-0.564,"v":26},{"x":4.3,"y":-0.554,"v":24},{"x":4.26,"y":-0.66,"v":20},{"x":4.57,"y":-0.67,"v":22},{"x":4.92,"y":-0.642,"v":22},{"x":5.2,"y":-0.496,"v":24},{"x":5.44,"y":-0.554,"v":34},{"x":5.65,"y":-0.486,"v":30},{"x":5.83,"y":-0.516,"v":42},{"x":5.57,"y":-0.428,"v":26},{"x":5.96,"y":-0.535,"v":30}
],
"noise":[
{"x":0.55,"y":0.2,"v":24},{"x":0.7,"y":0.26,"v":24},{"x":0.85,"y":0.18,"v":28},{"x":0.95,"y":0.3,"v":22},{"x":1.2,"y":0.24,"v":24},{"x":1.4,"y":0.3,"v":22},{"x":1.6,"y":0.22,"v":24},{"x":1.85,"y":0.28,"v":22},{"x":2.05,"y":0.22,"v":26},
{"x":0.75,"y":-0.2,"v":24},{"x":0.95,"y":-0.22,"v":28},{"x":1.15,"y":-0.25,"v":26},{"x":1.3,"y":-0.3,"v":24},{"x":1.45,"y":-0.22,"v":26},{"x":1.65,"y":-0.3,"v":24},{"x":1.9,"y":-0.28,"v":24},{"x":2.1,"y":-0.25,"v":24},{"x":2.3,"y":-0.3,"v":24},
{"x":2.4,"y":0.2,"v":40},{"x":2.55,"y":0.12,"v":50},{"x":2.7,"y":0.02,"v":45},{"x":2.78,"y":0.18,"v":55},{"x":2.85,"y":0.03,"v":60},{"x":2.92,"y":-0.02,"v":60},{"x":2.98,"y":0.1,"v":65},{"x":3.0,"y":-0.04,"v":62},{"x":3.05,"y":-0.12,"v":62},{"x":2.9,"y":0.23,"v":40},{"x":2.75,"y":-0.16,"v":40},{"x":2.6,"y":-0.18,"v":38},{"x":2.92,"y":-0.2,"v":38},{"x":3.02,"y":0.02,"v":60},
{"x":2.2,"y":0.66,"v":45},{"x":2.35,"y":0.72,"v":30},{"x":2.5,"y":0.66,"v":45},{"x":2.7,"y":0.64,"v":40},{"x":3.0,"y":0.64,"v":50},{"x":2.2,"y":-0.68,"v":45},{"x":2.55,"y":-0.66,"v":45},{"x":2.9,"y":-0.67,"v":50},{"x":3.05,"y":-0.62,"v":55}
],
"gridX":[{"g":0},{"g":1},{"g":2},{"g":3},{"g":4},{"g":5}],
"gridY":[{"g":-1},{"g":0},{"g":1}],
"barV":[
{"v":3.68,"v2":3.74},{"v":3.73,"v2":3.79},{"v":3.78,"v2":3.84},{"v":3.83,"v2":3.89},{"v":3.88,"v2":3.94},{"v":3.93,"v2":3.99},{"v":3.98,"v2":4.04},{"v":4.03,"v2":4.09},{"v":4.08,"v2":4.14},{"v":4.13,"v2":4.19},{"v":4.18,"v2":4.24},{"v":4.23,"v2":4.29},{"v":4.28,"v2":4.34},{"v":4.33,"v2":4.39},{"v":4.38,"v2":4.44},{"v":4.43,"v2":4.49},{"v":4.48,"v2":4.54},{"v":4.53,"v2":4.59},{"v":4.58,"v2":4.64},{"v":4.63,"v2":4.69},{"v":4.68,"v2":4.74},{"v":4.73,"v2":4.79},{"v":4.78,"v2":4.84},{"v":4.83,"v2":4.89},{"v":4.88,"v2":4.94},{"v":4.93,"v2":4.99},{"v":4.98,"v2":5.04},{"v":5.03,"v2":5.09},{"v":5.08,"v2":5.14},{"v":5.13,"v2":5.19},{"v":5.18,"v2":5.24},{"v":5.23,"v2":5.29},{"v":5.28,"v2":5.34},{"v":5.33,"v2":5.39},{"v":5.38,"v2":5.44},{"v":5.43,"v2":5.49},{"v":5.48,"v2":5.54},{"v":5.53,"v2":5.59},{"v":5.58,"v2":5.64},{"v":5.63,"v2":5.69},{"v":5.68,"v2":5.74},{"v":5.73,"v2":5.79},{"v":5.78,"v2":5.84},{"v":5.83,"v2":5.89},{"v":5.88,"v2":5.94},{"v":5.93,"v2":5.99},{"v":5.98,"v2":6.04},{"v":6.03,"v2":6.09},{"v":6.08,"v2":6.14},{"v":6.13,"v2":6.19},{"v":6.18,"v2":6.24},{"v":6.23,"v2":6.29},{"v":6.28,"v2":6.34},{"v":6.33,"v2":6.39},{"v":6.38,"v2":6.44},{"v":6.43,"v2":6.49},{"v":6.48,"v2":6.54},{"v":6.53,"v2":6.59},{"v":6.58,"v2":6.64},{"v":6.63,"v2":6.69},{"v":6.68,"v2":6.74},{"v":6.73,"v2":6.79},{"v":6.78,"v2":6.84},{"v":6.83,"v2":6.89},{"v":6.88,"v2":6.94},{"v":6.93,"v2":6.99},{"v":6.98,"v2":7.04},{"v":7.03,"v2":7.09},{"v":7.08,"v2":7.14},{"v":7.13,"v2":7.19},{"v":7.18,"v2":7.24},{"v":7.23,"v2":7.29},{"v":7.28,"v2":7.34},{"v":7.33,"v2":7.39},{"v":7.38,"v2":7.44},{"v":7.43,"v2":7.49},{"v":7.48,"v2":7.54},{"v":7.53,"v2":7.59},{"v":7.58,"v2":7.64},{"v":7.63,"v2":7.69},{"v":7.68,"v2":7.74},{"v":7.73,"v2":7.79},{"v":7.78,"v2":7.84},{"v":7.83,"v2":7.89},{"v":7.88,"v2":7.94},{"v":7.93,"v2":7.99},{"v":7.98,"v2":8.04},{"v":8.03,"v2":8.09},{"v":8.08,"v2":8.14},{"v":8.13,"v2":8.19},{"v":8.18,"v2":8.24},{"v":8.23,"v2":8.29},{"v":8.28,"v2":8.34},{"v":8.33,"v2":8.39},{"v":8.38,"v2":8.44},{"v":8.43,"v2":8.49},{"v":8.48,"v2":8.54},{"v":8.53,"v2":8.59},{"v":8.58,"v2":8.64},{"v":8.63,"v2":8.69},{"v":8.68,"v2":8.74},{"v":8.73,"v2":8.79},{"v":8.78,"v2":8.84},{"v":8.83,"v2":8.89},{"v":8.88,"v2":8.94},{"v":8.93,"v2":8.99},{"v":8.98,"v2":9.04},{"v":9.03,"v2":9.1}
],
"barW":[
{"v":0,"v2":2.5},{"v":2,"v2":4.5},{"v":4,"v2":6.5},{"v":6,"v2":8.5},{"v":8,"v2":10.5},{"v":10,"v2":12.5},{"v":12,"v2":14.5},{"v":14,"v2":16.5},{"v":16,"v2":18.5},{"v":18,"v2":20.5},{"v":20,"v2":22.5},{"v":22,"v2":24.5},{"v":24,"v2":26.5},{"v":26,"v2":28.5},{"v":28,"v2":30.5},{"v":30,"v2":32.5},{"v":32,"v2":34.5},{"v":34,"v2":36.5},{"v":36,"v2":38.5},{"v":38,"v2":40.5},{"v":40,"v2":42.5},{"v":42,"v2":44.5},{"v":44,"v2":46.5},{"v":46,"v2":48.5},{"v":48,"v2":50.5},{"v":50,"v2":52.5},{"v":52,"v2":54.5},{"v":54,"v2":56.5},{"v":56,"v2":58.5},{"v":58,"v2":60.5},{"v":60,"v2":62.5},{"v":62,"v2":64.5},{"v":64,"v2":66.5},{"v":66,"v2":68.5},{"v":68,"v2":70.5},{"v":70,"v2":72.5},{"v":72,"v2":74.5},{"v":74,"v2":76.5},{"v":76,"v2":78.5},{"v":78,"v2":80.5},{"v":80,"v2":82.5},{"v":82,"v2":84.5},{"v":84,"v2":86.5},{"v":86,"v2":88.5},{"v":88,"v2":90.5},{"v":90,"v2":92.5},{"v":92,"v2":94.5},{"v":94,"v2":96.5},{"v":96.4,"v2":98.5},{"v":98,"v2":100.5},{"v":100,"v2":102.5},{"v":102,"v2":104.5},{"v":104,"v2":106.5},{"v":106,"v2":108.5},{"v":108,"v2":110.5},{"v":110,"v2":112.5},{"v":112,"v2":114.5},{"v":114,"v2":116.5},{"v":116,"v2":118.5},{"v":118,"v2":120.5},{"v":120,"v2":122.5},{"v":122,"v2":124.5},{"v":124,"v2":126.5},{"v":126,"v2":128.5},{"v":128,"v2":130.5},{"v":130,"v2":132.5},{"v":132,"v2":134.5},{"v":134,"v2":136.5},{"v":136,"v2":138.5},{"v":138,"v2":140.5},{"v":140,"v2":142.5},{"v":142,"v2":144.5},{"v":144,"v2":146.5},{"v":146,"v2":148.5},{"v":148,"v2":150.5},{"v":150,"v2":152.5},{"v":152,"v2":154.5},{"v":154,"v2":156.5},{"v":156,"v2":158.5},{"v":158,"v2":160.5},{"v":160,"v2":162.5},{"v":162,"v2":164.5},{"v":164,"v2":166.5},{"v":166,"v2":168.5},{"v":168,"v2":170.5},{"v":170,"v2":172.5},{"v":172,"v2":174.5},{"v":174,"v2":176.5},{"v":176,"v2":178.5},{"v":178,"v2":180.5},{"v":180,"v2":182.5},{"v":182,"v2":184.5},{"v":184,"v2":186.5},{"v":186,"v2":188.5},{"v":188,"v2":191}
]
},
"vconcat":[
{"bounds":"flush","spacing":31,"resolve":{"scale":{"color":"independent"}},"hconcat":[
{"width":533,"height":686,"data":{"values":[{"label":"(a)","px":0.175,"py":-0.245}]},"mark":{"type":"text","font":"Liberation Serif","fontWeight":"bold","fontSize":66,"color":"#111"},"encoding":{"text":{"field":"label"},"x":{"field":"px","type":"quantitative","scale":{"domain":[0,1]},"axis":null},"y":{"field":"py","type":"quantitative","scale":{"domain":[-2,2]},"axis":null}}},
{"width":1273,"height":686,"title":"Velocity contour","resolve":{"axis":{"x":"independent","y":"independent"}},"layer":[
{"data":{"values":[{"x":-1,"x2":6,"y":-2,"y2":2,"v":8.27},{"x":-1,"x2":-0.8,"y":-0.5,"y2":0.5,"v":7.95},{"x":-0.8,"x2":-0.6,"y":-0.5,"y2":0.5,"v":7.82},{"x":-1,"x2":-0.8,"y":0.5,"y2":0.85,"v":8.0},{"x":-0.8,"x2":-0.6,"y":0.5,"y2":0.85,"v":7.93},{"x":-1,"x2":-0.8,"y":-0.85,"y2":-0.5,"v":8.0},{"x":-0.8,"x2":-0.6,"y":-0.85,"y2":-0.5,"v":7.93},{"x":-1,"x2":0,"y":0.85,"y2":1.2,"v":8.05},{"x":-1,"x2":0,"y":-1.2,"y2":-0.85,"v":8.05},{"x":-1,"x2":0,"y":1.2,"y2":1.6,"v":8.15},{"x":-1,"x2":0,"y":-1.6,"y2":-1.2,"v":8.15},{"x":0,"x2":1,"y":0.72,"y2":1,"v":8.42},{"x":0,"x2":1,"y":-1,"y2":-0.72,"v":8.42},{"x":1,"x2":2,"y":0.72,"y2":1,"v":8.36},{"x":1,"x2":2,"y":-1,"y2":-0.72,"v":8.36},{"x":0,"x2":1,"y":1,"y2":1.3,"v":8.34},{"x":0,"x2":1,"y":-1.3,"y2":-1,"v":8.34},{"x":2,"x2":3.2,"y":0.72,"y2":1,"v":8.3},{"x":2,"x2":3.2,"y":-1,"y2":-0.72,"v":8.3}]},"mark":{"type":"rect","clip":true},"encoding":{"x":{"field":"x","type":"quantitative","scale":{"domain":[-1,6],"nice":false},"axis":{"title":"X distance [D]","values":[-1,0,1,2,3,4,5,6],"labelExpr":"''+datum.value","titlePadding":37,"labelOffset":{"condition":{"test":"datum.value<0","value":0},"value":11}}},"x2":{"field":"x2"},"y":{"field":"y","type":"quantitative","scale":{"domain":[-2,2],"nice":false},"axis":{"title":"Y distance [D]","values":[-2,-1,0,1,2],"labelExpr":"''+datum.value","titlePadding":39}},"y2":{"field":"y2"},"color":{"field":"v","type":"quantitative","legend":null,"scale":{"domain":[3.68,4.35,4.8,5.2,5.75,6,6.42,6.43,6.75,7,7.4,8,8.25,8.65,9.1],"range":["#000088","#0000d8","#0055d8","#0096dc","#00d8d0","#00d09a","#00c860","#6ed83a","#a8c800","#d8c800","#e09000","#e45000","#e23000","#d81000","#780000"]}}}},
{"data":{"name":"inflow"},"mark":{"type":"rect","clip":true,"width":10,"height":18},"encoding":{"x":{"field":"x","type":"quantitative","axis":null},"y":{"field":"y","type":"quantitative","axis":null},"color":{"field":"v","type":"quantitative","legend":null}}},
{"data":{"name":"wakeA"},"mark":{"type":"rect","clip":true,"width":46.5,"height":9.5},"encoding":{"x":{"field":"x","type":"quantitative","axis":null},"y":{"field":"y","type":"quantitative","axis":null},"color":{"field":"v","type":"quantitative","legend":null}}},
{"data":{"name":"wakeB"},"mark":{"type":"rect","clip":true,"width":92,"height":9.5},"encoding":{"x":{"field":"x","type":"quantitative","axis":null},"y":{"field":"y","type":"quantitative","axis":null},"color":{"field":"v","type":"quantitative","legend":null}}},
{"data":{"name":"gridX"},"mark":{"type":"rule","strokeDash":[2,7],"strokeWidth":2,"color":"#000","opacity":0.3},"encoding":{"x":{"field":"g","type":"quantitative","axis":null}}},
{"data":{"name":"gridY"},"mark":{"type":"rule","strokeDash":[2,7],"strokeWidth":2,"color":"#000","opacity":0.3},"encoding":{"y":{"field":"g","type":"quantitative","axis":null}}},
{"data":{"values":[{"x":0,"y":-0.5,"y2":0.5}]},"mark":{"type":"rule","strokeWidth":4,"color":"#0a1a14"},"encoding":{"x":{"field":"x","type":"quantitative","axis":{"orient":"top","labels":false,"title":null,"values":[-1,0,1,2,3,4,5,6]}},"y":{"field":"y","type":"quantitative","axis":{"orient":"right","labels":false,"title":null,"values":[-2,-1,0,1,2]}},"y2":{"field":"y2"}}}
]},
{"width":65,"height":686,"resolve":{"axis":{"y":"independent"}},"layer":[
{"data":{"name":"barV"},"mark":"rect","encoding":{"y":{"field":"v","type":"quantitative","scale":{"domain":[3.68,9.1],"nice":false},"axis":{"orient":"right","title":"Velocity [m/s]","titleFontSize":66,"titleAngle":270,"values":[4,5,6,7,8,9],"labelExpr":"''+datum.value","ticks":false,"domain":false,"labelPadding":37,"titlePadding":122,"labelAlign":"left"}},"y2":{"field":"v2"},"color":{"field":"v","type":"quantitative","legend":null,"scale":{"domain":[3.68,4.35,4.8,5.2,5.75,6,6.42,6.43,6.75,7,7.4,8,8.25,8.65,9.1],"range":["#00008f","#0000ff","#0060ff","#00aaff","#00ffff","#00ffb4","#00f06e","#70ff40","#b0ff00","#fff000","#ffa000","#ff5000","#ff3000","#ff0000","#8b0000"]}}}},
{"data":{"values":[{"t":4,"a":0,"b":0.2},{"t":4,"a":0.8,"b":1},{"t":5,"a":0,"b":0.2},{"t":5,"a":0.8,"b":1},{"t":6,"a":0,"b":0.2},{"t":6,"a":0.8,"b":1},{"t":7,"a":0,"b":0.2},{"t":7,"a":0.8,"b":1},{"t":8,"a":0,"b":0.2},{"t":8,"a":0.8,"b":1},{"t":9,"a":0,"b":0.2},{"t":9,"a":0.8,"b":1}]},"mark":{"type":"rule","strokeWidth":2,"color":"#222"},"encoding":{"y":{"field":"t","type":"quantitative","axis":null},"x":{"field":"a","type":"quantitative","scale":{"domain":[0,1]},"axis":null},"x2":{"field":"b"}}},
{"data":{"values":[{"v":3.68,"v2":9.1}]},"mark":{"type":"rect","fill":null,"stroke":"#333","strokeWidth":2},"encoding":{"y":{"field":"v","type":"quantitative","axis":null},"y2":{"field":"v2"}}}
]}
]},
{"bounds":"flush","spacing":31,"resolve":{"scale":{"color":"independent"}},"hconcat":[
{"width":559,"height":686,"data":{"values":[{"label":"(b)","px":0.161,"py":-0.236}]},"mark":{"type":"text","font":"Liberation Serif","fontWeight":"bold","fontSize":66,"color":"#111"},"encoding":{"text":{"field":"label"},"x":{"field":"px","type":"quantitative","scale":{"domain":[0,1]},"axis":null},"y":{"field":"py","type":"quantitative","scale":{"domain":[-2,2]},"axis":null}}},
{"width":1273,"height":686,"title":"Vorticity contour","resolve":{"axis":{"x":"independent","y":"independent"}},"layer":[
{"data":{"values":[{"x":-1,"x2":6,"y":-2,"y2":2,"v":1.5},{"x":-1,"x2":0,"y":-1,"y2":1,"v":4},{"x":0,"x2":3.1,"y":-1,"y2":1,"v":5},{"x":3.1,"x2":6,"y":-0.88,"y2":0.88,"v":5},{"x":0,"x2":3.1,"y":-0.72,"y2":0.72,"v":11},{"x":3.1,"x2":6,"y":0.42,"y2":0.78,"v":9},{"x":3.1,"x2":6,"y":-0.78,"y2":-0.42,"v":9},{"x":3.1,"x2":6,"y":-0.38,"y2":0.38,"v":8},{"x":0,"x2":3.1,"y":0.48,"y2":0.66,"v":13},{"x":0,"x2":3.1,"y":-0.66,"y2":-0.48,"v":13},{"x":0,"x2":3.1,"y":-0.16,"y2":0.16,"v":13}]},"mark":{"type":"rect","clip":true},"encoding":{"x":{"field":"x","type":"quantitative","scale":{"domain":[-1,6],"nice":false},"axis":{"title":"X distance [D]","values":[-1,0,1,2,3,4,5,6],"labelExpr":"''+datum.value","titlePadding":37,"labelOffset":{"condition":{"test":"datum.value<0","value":0},"value":11}}},"x2":{"field":"x2"},"y":{"field":"y","type":"quantitative","scale":{"domain":[-2,2],"nice":false},"axis":{"title":"Y distance [D]","values":[-2,-1,0,1,2],"labelExpr":"''+datum.value","titlePadding":39}},"y2":{"field":"y2"},"color":{"field":"v","type":"quantitative","legend":null,"scale":{"domain":[0,23.5,39,53,72.5,81,96,96.4,107.6,116.4,130,151.5,160,174,190],"range":["#000088","#0000d8","#0055d8","#0096dc","#00d8d0","#00d09a","#00c860","#6ed83a","#a8c800","#d8c800","#e09000","#e45000","#e23000","#d81000","#780000"]}}}},
{"data":{"name":"blobs"},"mark":{"type":"circle","size":320,"opacity":0.85,"clip":true},"encoding":{"x":{"field":"x","type":"quantitative","axis":null},"y":{"field":"y","type":"quantitative","axis":null},"color":{"field":"v","type":"quantitative","legend":null}}},
{"data":{"name":"noise"},"mark":{"type":"circle","size":70,"opacity":1,"clip":true},"encoding":{"x":{"field":"x","type":"quantitative","axis":null},"y":{"field":"y","type":"quantitative","axis":null},"color":{"field":"v","type":"quantitative","legend":null}}},
{"data":{"name":"streaks"},"mark":{"type":"line","strokeWidth":6,"color":"#0040d8","interpolate":"monotone"},"encoding":{"x":{"field":"x","type":"quantitative","axis":null},"y":{"field":"y","type":"quantitative","axis":null},"detail":{"field":"s"}}},
{"data":{"name":"dots"},"mark":{"type":"circle","size":260,"opacity":1,"color":"#0058d8"},"encoding":{"x":{"field":"x","type":"quantitative","axis":null},"y":{"field":"y","type":"quantitative","axis":null}}},
{"data":{"name":"dots"},"mark":{"type":"circle","size":110,"opacity":1,"color":"#00b8b0"},"encoding":{"x":{"field":"x","type":"quantitative","axis":null},"y":{"field":"y","type":"quantitative","axis":null}}},
{"data":{"name":"dots"},"mark":{"type":"circle","size":40,"opacity":1},"encoding":{"x":{"field":"x","type":"quantitative","axis":null},"y":{"field":"y","type":"quantitative","axis":null},"color":{"field":"v","type":"quantitative","legend":null}}},
{"data":{"name":"gridX"},"mark":{"type":"rule","strokeDash":[2,7],"strokeWidth":2,"color":"#000","opacity":0.2},"encoding":{"x":{"field":"g","type":"quantitative","axis":null}}},
{"data":{"name":"gridY"},"mark":{"type":"rule","strokeDash":[2,7],"strokeWidth":2,"color":"#000","opacity":0.2},"encoding":{"y":{"field":"g","type":"quantitative","axis":null}}},
{"data":{"values":[{"x":0,"y":-0.5,"y2":0.5}]},"mark":{"type":"rule","strokeWidth":4,"color":"#000"},"encoding":{"x":{"field":"x","type":"quantitative","axis":{"orient":"top","labels":false,"title":null,"values":[-1,0,1,2,3,4,5,6]}},"y":{"field":"y","type":"quantitative","axis":{"orient":"right","labels":false,"title":null,"values":[-2,-1,0,1,2]}},"y2":{"field":"y2"}}}
]},
{"width":65,"height":686,"resolve":{"axis":{"y":"independent"}},"layer":[
{"data":{"name":"barW"},"mark":"rect","encoding":{"y":{"field":"v","type":"quantitative","scale":{"domain":[0,191],"nice":false},"axis":{"orient":"right","title":"Vorticity [1/s]","titleFontSize":66,"titleAngle":270,"values":[0,30,60,90,120,150,180],"labelExpr":"''+datum.value","ticks":false,"domain":false,"labelPadding":37,"titlePadding":102,"labelAlign":"left"}},"y2":{"field":"v2"},"color":{"field":"v","type":"quantitative","legend":null,"scale":{"domain":[0,23.5,39,53,72.5,81,96,96.4,107.6,116.4,130,151.5,160,174,190],"range":["#00008f","#0000ff","#0060ff","#00aaff","#00ffff","#00ffb4","#00f06e","#70ff40","#b0ff00","#fff000","#ffa000","#ff5000","#ff3000","#ff0000","#8b0000"]}}}},
{"data":{"values":[{"t":30,"a":0,"b":0.2},{"t":30,"a":0.8,"b":1},{"t":60,"a":0,"b":0.2},{"t":60,"a":0.8,"b":1},{"t":90,"a":0,"b":0.2},{"t":90,"a":0.8,"b":1},{"t":120,"a":0,"b":0.2},{"t":120,"a":0.8,"b":1},{"t":150,"a":0,"b":0.2},{"t":150,"a":0.8,"b":1},{"t":180,"a":0,"b":0.2},{"t":180,"a":0.8,"b":1}]},"mark":{"type":"rule","strokeWidth":2,"color":"#222"},"encoding":{"y":{"field":"t","type":"quantitative","axis":null},"x":{"field":"a","type":"quantitative","scale":{"domain":[0,1]},"axis":null},"x2":{"field":"b"}}},
{"data":{"values":[{"v":0,"v2":191}]},"mark":{"type":"rect","fill":null,"stroke":"#333","strokeWidth":2},"encoding":{"y":{"field":"v","type":"quantitative","axis":null},"y2":{"field":"v2"}}}
]}
]}
]}
